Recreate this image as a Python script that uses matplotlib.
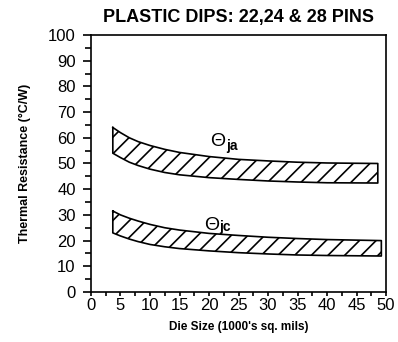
import numpy as np
import matplotlib
matplotlib.use("Agg")
import matplotlib.pyplot as plt
from matplotlib.ticker import MultipleLocator

plt.rcParams['font.family'] = ['Liberation Sans', 'DejaVu Sans']
plt.rcParams['hatch.linewidth'] = 1.2

# theta ja band (upper)
ja_x = [3.7, 5, 6.5, 8, 10, 12.5, 15, 20, 25, 30, 35, 40, 48.6]
ja_top = [64, 62, 60, 58.5, 57, 55.5, 54.3, 52.7, 51.6, 51, 50.5, 50.2, 50]
ja_bot = [54, 52.3, 50.5, 49.2, 47.8, 46.5, 45.6, 44.5, 43.8, 43.2, 42.8, 42.5, 42.4]

# theta jc band (lower)
jc_x = [3.7, 5, 6.5, 8, 10, 12.5, 15, 20, 25, 30, 35, 40, 49.2]
jc_top = [31.5, 30, 28.7, 27.6, 26.3, 25, 24.1, 22.8, 22, 21.3, 20.8, 20.4, 20]
jc_bot = [23, 21.8, 20.6, 19.6, 18.5, 17.6, 16.9, 16, 15.3, 14.8, 14.4, 14.2, 14]

fig = plt.figure(figsize=(3.98, 3.42), dpi=100)
ax = fig.add_axes([0.2286, 0.1462, 0.7414, 0.7515])

for xs, top, bot in [(ja_x, ja_top, ja_bot), (jc_x, jc_top, jc_bot)]:
    ax.fill_between(xs, bot, top, facecolor='white', edgecolor='black',
                    hatch='//', linewidth=0)
    # outline of the band
    px = list(xs) + list(xs[::-1]) + [xs[0]]
    py = list(top) + list(bot[::-1]) + [top[0]]
    ax.plot(px, py, color='black', lw=1.2)

# labels on the bands
ax.text(21.5, 58.5, 'Θ', fontsize=14, ha='center', va='center')
ax.annotate('ja', (21.5, 58.5), xytext=(6, -3), textcoords='offset points',
            fontsize=10, fontweight='bold', ha='left', va='center')
ax.text(20.5, 26, 'Θ', fontsize=14, ha='center', va='center')
ax.annotate('jc', (20.5, 26), xytext=(5, -1), textcoords='offset points',
            fontsize=10, fontweight='bold', ha='left', va='center')

ax.set_xlim(0, 50)
ax.set_ylim(0, 100)
ax.xaxis.set_major_locator(MultipleLocator(5))
ax.xaxis.set_minor_locator(MultipleLocator(2.5))
ax.yaxis.set_major_locator(MultipleLocator(10))
ax.yaxis.set_minor_locator(MultipleLocator(5))
ax.tick_params(axis='x', which='both', direction='out', length=3, width=1.2,
               pad=1, labelsize=12)
ax.tick_params(axis='y', which='major', direction='out', length=6, width=1.2,
               pad=5, labelsize=12)
ax.tick_params(axis='y', which='minor', direction='out', length=4, width=1.2)
for s in ax.spines.values():
    s.set_linewidth(1.2)

ax.set_title('PLASTIC DIPS: 22,24 & 28 PINS', fontsize=13, fontweight='bold', pad=9)
ax.set_xlabel("Die Size (1000's sq. mils)", fontsize=8.5, fontweight='bold', labelpad=6)
ax.set_ylabel('Thermal Resistance (°C/W)', fontsize=9, fontweight='bold', labelpad=12)

fig.savefig('out.png', dpi=100)
